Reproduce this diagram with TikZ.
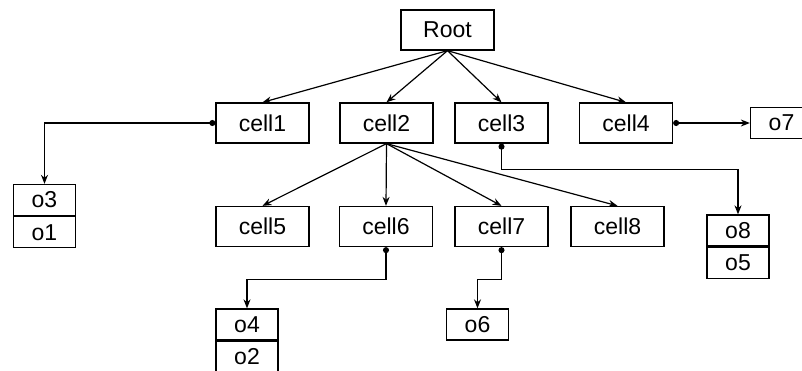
\documentclass[tikz,border=0pt]{standalone}
\usepackage{fontspec}
\setmainfont{Liberation Sans}
\usetikzlibrary{arrows.meta}
\begin{document}
\begin{tikzpicture}[x=1pt,y=-1pt,
  every node/.style={font=\fontsize{23}{27}\selectfont},
  cellbox/.style={draw, line width=1.3pt, minimum width=93pt, minimum height=40pt, inner sep=0pt},
  objbox/.style={draw, line width=1.3pt, minimum width=62pt, minimum height=31pt, inner sep=0pt},
  edge/.style={line width=1.2pt, -{Stealth[length=9pt,width=7pt]}},
  ptr/.style={line width=1.2pt, {Circle[length=6pt]}-{Stealth[length=9pt,width=7pt]}}]
\useasboundingbox (0,0) rectangle (802,371);
\clip (0,0) rectangle (802,371);
% tree cells
\node[cellbox] (root) at (447.5,30) {Root};
\node[cellbox] (cell1) at (262.5,123) {cell1};
\node[cellbox] (cell2) at (386.5,123) {cell2};
\node[cellbox] (cell3) at (501.5,123) {cell3};
\node[cellbox] (cell4) at (626,123) {cell4};
\node[cellbox] (cell5) at (262.5,226.5) {cell5};
\node[cellbox] (cell6) at (386,226.5) {cell6};
\node[cellbox] (cell7) at (501.5,226.5) {cell7};
\node[cellbox] (cell8) at (617.5,226.5) {cell8};
% object lists
\node[objbox] (o3) at (44.5,200) {o3};
\node[objbox, anchor=north] (o1) at (o3.south) {o1};
\node[objbox] (o8) at (738,230.5) {o8};
\node[objbox, anchor=north] (o5) at (o8.south) {o5};
\node[objbox] (o4) at (247,324.5) {o4};
\node[objbox, anchor=north] (o2) at (o4.south) {o2};
\node[objbox] (o6) at (477.5,324.5) {o6};
\node[objbox] (o7) at (781.5,123) {o7};
% tree edges
\foreach \c in {cell1,cell2,cell3,cell4}
  \draw[edge] (root.south) -- (\c.north);
\foreach \c in {cell5,cell6,cell7,cell8}
  \draw[edge] (cell2.south) -- (\c.north);
% pointers to object lists
\draw[ptr] (cell1.west) -| (o3.north);
\draw[ptr] (cell3.south) -- ++(0,26) -| (o8.north);
\draw[ptr] (cell4.east) -- (o7.west);
\draw[ptr] (cell6.south) -- ++(0,32) -| (o4.north);
\draw[ptr] (cell7.south) -- ++(0,32) -| (o6.north);
\end{tikzpicture}
\end{document}
